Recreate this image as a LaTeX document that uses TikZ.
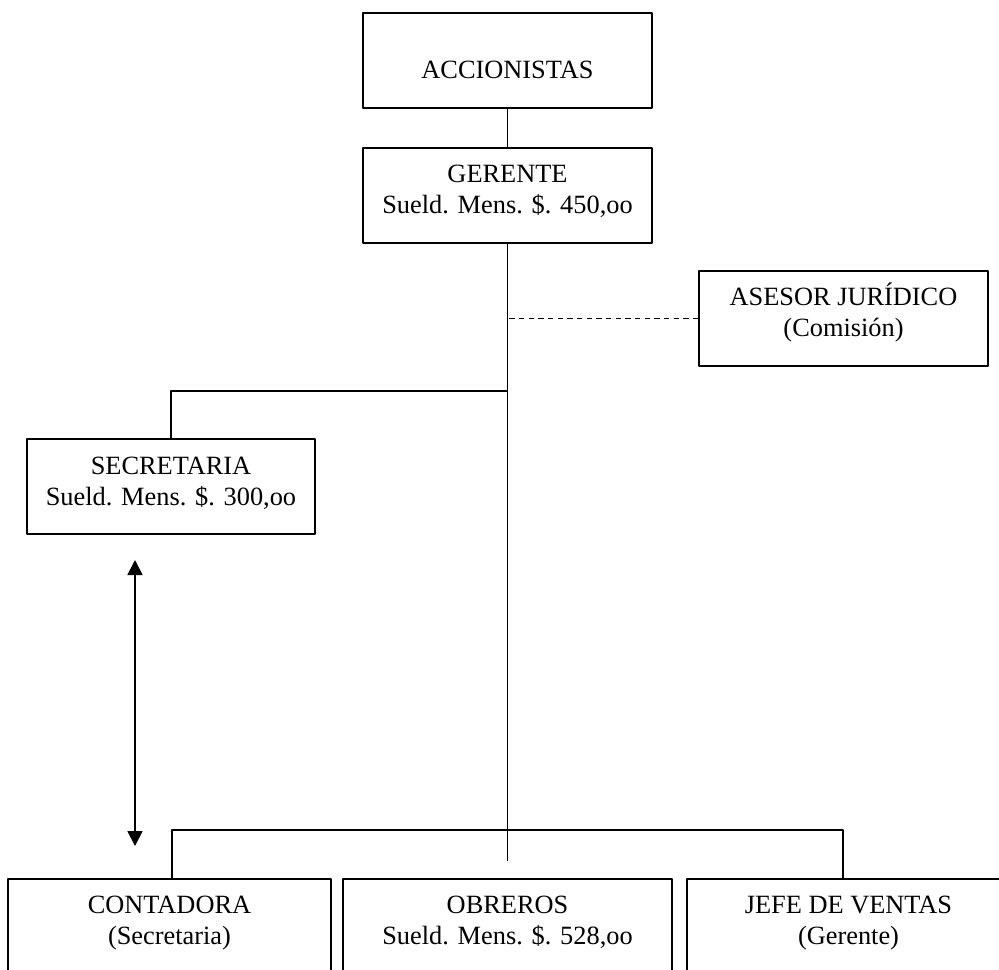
\documentclass[tikz,border=0pt]{standalone}
\usepackage{fontspec}
\setmainfont{Liberation Serif}
\usetikzlibrary{arrows.meta}
\begin{document}
\begin{tikzpicture}[x=0.02cm,y=-0.02cm,>={Triangle[length=0.3cm,width=0.3cm]},line join=round,
	hop/.style={draw,line width=1pt,minimum height=1.9cm,inner sep=0pt},
	chu/.style={align=center,anchor=base,inner sep=0pt,font=\fontsize{15}{17.4}\selectfont},
	noi/.style={line width=0.7pt}]
	\useasboundingbox (0,0) rectangle (999,969);
	% cac o
	\foreach \ten/\x/\y/\w in {acc/507.5/60.5/5.78,ger/507.5/195.5/5.78,ase/843.5/318.5/5.78,
		sec/171/486.5/5.76,cont/169.5/926.5/6.46,obr/507.5/926.5/6.58,jefe/848.5/926.5/6.46
	}{\node[hop,minimum width=\w cm] (\ten) at (\x,\y) {};}
	% chu trong o (base = dong cuoi)
	\node[chu] (t-acc) at ([yshift=-1.32cm]acc.north) {ACCIONISTAS};
	\node[chu] (t-ger) at ([yshift=-1.32cm]ger.north) {GERENTE\\Sueld. Mens. \$. 450,oo};
	\node[chu] (t-ase) at ([yshift=-1.32cm]ase.north) {ASESOR JURÍDICO\\(Comisión)};
	\node[chu] (t-sec) at ([yshift=-1.34cm]sec.north) {SECRETARIA\\Sueld. Mens. \$. 300,oo};
	\node[chu] (t-cont) at ([yshift=-1.32cm]cont.north) {CONTADORA\\(Secretaria)};
	\node[chu] (t-obr) at ([yshift=-1.32cm]obr.north) {OBREROS\\Sueld. Mens. \$. 528,oo};
	\node[chu] (t-jefe) at ([yshift=-1.32cm]jefe.north) {JEFE DE VENTAS\\(Gerente)};
	\path (507.5,391) coordinate (r1)
		(507.5,830) coordinate (r2)
		(507.5,861) coordinate (chan)
		(135,560) coordinate (m1)
		(135,846) coordinate (m2);
	\draw[noi] (acc)--(ger) (ger)--(chan);
	\draw[noi,dash pattern=on 3pt off 2.5pt] (ase.west)--(ase.west -| ger.south); % net dut
	\draw[noi] (sec.north)|-(r1);
	\draw[noi] ([xshift=0.05cm]cont.north)|-(r2)-|([xshift=-0.11cm]jefe.north);
	\draw[line width=1pt,<->] (m1)--(m2);
\end{tikzpicture}
\end{document}
